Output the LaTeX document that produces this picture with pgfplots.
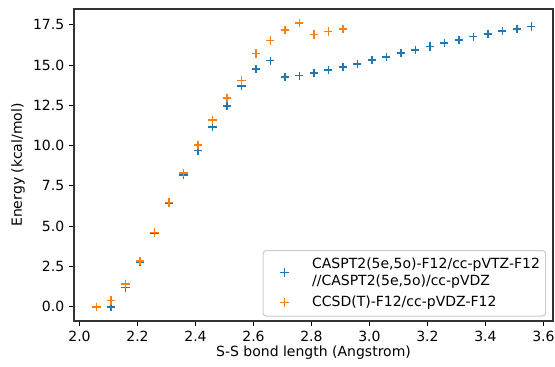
\documentclass[border=0pt]{standalone}
\usepackage{fontspec}
\setmainfont{DejaVu Sans}
\usepackage{pgfplots}
\pgfplotsset{compat=1.18}
\definecolor{tabblue}{HTML}{1F77B4}
\definecolor{taborange}{HTML}{FF7F0E}
\begin{document}
\fontsize{14bp}{16.8bp}\selectfont
\begin{tikzpicture}
\useasboundingbox (-74bp,-46bp) rectangle (481bp,321bp);
\begin{axis}[
  at={(0,0)}, anchor=south west,
  scale only axis,
  width=479bp, height=312bp,
  xmin=1.981, xmax=3.633,
  ymin=-0.88, ymax=18.48,
  xtick={2.0,2.2,...,3.61},
  ytick={0,2.5,...,17.6},
  xtick pos=bottom, ytick pos=left,
  tick align=outside,
  major tick length=4.9bp,
  every tick/.style={black, line width=1.1bp},
  axis line style={line width=1.1bp, black!80},
  /pgf/number format/assume math mode=true,
  /pgf/number format/.cd, fixed, fixed zerofill, precision=1, /pgfplots/.cd,
  tick label style={font=\fontsize{14bp}{16.8bp}\selectfont},
  label style={font=\fontsize{14bp}{16.8bp}\selectfont},
  xlabel={S-S bond length (Angstrom)},
  ylabel={Energy (kcal/mol)},
  xlabel style={at={(axis description cs:0.5,-0.1)}, anchor=center},
  ylabel style={at={(axis description cs:-0.117,0.5)}, anchor=center},
  legend cell align=left,
  legend image code/.code={\path (0bp,0bp) (30bp,0bp); \draw[#1] plot coordinates {(15bp,0bp)};},
  legend style={
    at={(axis description cs:1,0)}, anchor=south east,
    xshift=-7bp, yshift=4.5bp,
    draw=black!20, line width=1bp, rounded corners=3bp,
    fill=white, fill opacity=0.8, text opacity=1,
    font=\fontsize{14bp}{17.5bp}\selectfont,
    inner xsep=5.5bp, inner ysep=7bp,
    nodes={align=left, inner sep=0bp},
    column sep=12bp,
    row sep=8.5bp,
  },
]
\addplot[only marks, mark=+, mark size=4.2bp, tabblue, line width=1.5bp] coordinates {
(2.108,0.00) (2.158,1.20) (2.208,2.79) (2.258,4.57) (2.308,6.43) (2.358,8.17)
(2.408,9.70) (2.458,11.15) (2.508,12.47) (2.558,13.71) (2.608,14.77) (2.658,15.27)
(2.708,14.25) (2.758,14.34) (2.808,14.52) (2.858,14.69) (2.908,14.87) (2.958,15.08)
(3.008,15.31) (3.058,15.51) (3.108,15.74) (3.158,15.95) (3.208,16.15) (3.258,16.36)
(3.308,16.55) (3.358,16.76) (3.408,16.94) (3.458,17.11) (3.508,17.25) (3.558,17.39)
};
\addlegendentry{CASPT2(5e,5o)-F12/cc-pVTZ-F12\\//CASPT2(5e,5o)/cc-pVDZ}
\addplot[only marks, mark=+, mark size=4.2bp, taborange, line width=1.5bp] coordinates {
(2.058,0.00) (2.108,0.39) (2.158,1.43) (2.208,2.85) (2.258,4.61) (2.308,6.47)
(2.358,8.30) (2.408,10.05) (2.458,11.60) (2.508,12.95) (2.558,14.04) (2.608,15.71)
(2.658,16.53) (2.708,17.18) (2.758,17.62) (2.808,16.90) (2.858,17.08) (2.908,17.25)
};
\addlegendentry{CCSD(T)-F12/cc-pVDZ-F12}
\end{axis}
\end{tikzpicture}
\end{document}
